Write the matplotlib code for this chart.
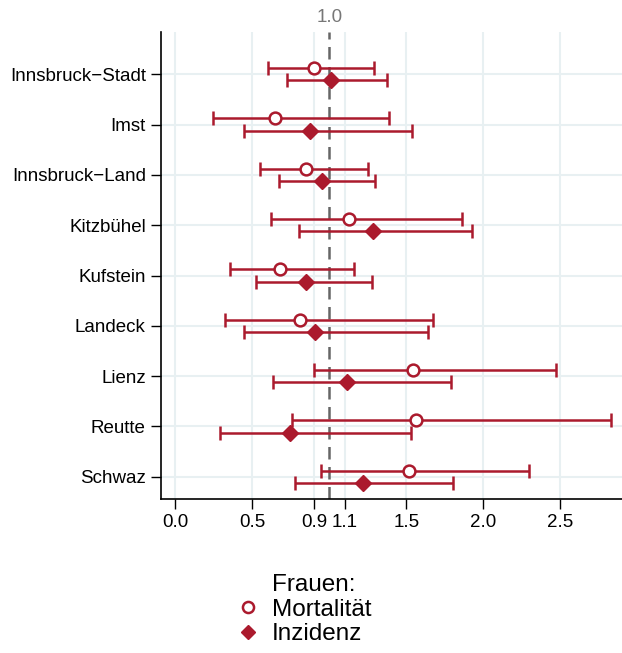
import matplotlib
matplotlib.use("Agg")
import matplotlib.pyplot as plt
from matplotlib.lines import Line2D
import numpy as np

plt.rcParams["font.family"] = ["Liberation Sans", "DejaVu Sans"]

# Bezirke (top to bottom)
districts = ["Innsbruck\u2212Stadt", "Imst", "Innsbruck\u2212Land", "Kitzbühel",
             "Kufstein", "Landeck", "Lienz", "Reutte", "Schwaz"]

# Mortalität: estimate, lower, upper
mort_est = [0.90, 0.645, 0.85, 1.127, 0.676, 0.81, 1.546, 1.562, 1.516]
mort_lo = [0.60, 0.241, 0.55, 0.623, 0.356, 0.319, 0.899, 0.756, 0.945]
mort_hi = [1.288, 1.384, 1.251, 1.863, 1.16, 1.674, 2.469, 2.827, 2.293]

# Inzidenz: estimate, lower, upper
inz_est = [1.01, 0.876, 0.949, 1.283, 0.845, 0.908, 1.112, 0.741, 1.216]
inz_lo = [0.723, 0.446, 0.673, 0.801, 0.526, 0.443, 0.636, 0.291, 0.778]
inz_hi = [1.371, 1.536, 1.299, 1.926, 1.279, 1.638, 1.792, 1.529, 1.803]

xticks = [0.0, 0.5, 0.9, 1.1, 1.5, 2.0, 2.5]
xtick_labels = ["0.0", "0.5", "0.9", "1.1", "1.5", "2.0", "2.5"]
ref_value = 1.0

red = "#ab1a2d"
grid_col = "#e8f0f2"
fs = 13.5

fig = plt.figure(figsize=(6.22, 6.53), dpi=100)
ax = fig.add_axes([0.259, 0.236, 0.741, 0.715])

y = np.arange(1, len(districts) + 1)
off = 0.123

me = np.array(mort_est)
ie = np.array(inz_est)
ax.errorbar(me, y - off, xerr=[me - np.array(mort_lo), np.array(mort_hi) - me],
            fmt="o", color=red, mfc="white", mec=red, ms=8.5, mew=1.8,
            elinewidth=1.8, capsize=5, capthick=1.8, zorder=3)
ax.errorbar(ie, y + off, xerr=[ie - np.array(inz_lo), np.array(inz_hi) - ie],
            fmt="D", color=red, ms=8, elinewidth=1.8, capsize=5, capthick=1.8,
            zorder=3)

ax.axvline(ref_value, color="#666666", linestyle=(0, (5, 3)), linewidth=1.8, zorder=2)

ax.set_xlim(-0.093, 2.9)
ax.set_ylim(9.44, 0.16)
ax.set_yticks(y)
ax.set_yticklabels(districts, fontsize=fs)
ax.set_xticks(xticks)
ax.set_xticklabels(xtick_labels, fontsize=fs)
ax.tick_params(axis="both", length=7, width=1, color="black", pad=4)

for xv in xticks:
    ax.axvline(xv, color=grid_col, linewidth=1.5, zorder=0)
for yv in y:
    ax.axhline(yv, color=grid_col, linewidth=1.5, zorder=0)

for s in ["top", "right"]:
    ax.spines[s].set_visible(False)
for s in ["left", "bottom"]:
    ax.spines[s].set_linewidth(1.2)

top = ax.secondary_xaxis("top")
top.set_xticks([ref_value])
top.set_xticklabels(["1.0"], fontsize=fs, color="#777777")
top.tick_params(length=0, pad=4)
top.spines["top"].set_visible(False)

handles = [Line2D([], [], linestyle="none"),
           Line2D([], [], linestyle="none", marker="o", ms=8, mfc="white",
                  mec=red, mew=1.8),
           Line2D([], [], linestyle="none", marker="D", ms=7, color=red)]
labels = ["Frauen:", "Mortalität", "Inzidenz"]
fig.legend(handles, labels, loc="center", bbox_to_anchor=(0.49, 0.066),
           frameon=False, fontsize=17.5, handlelength=0.8, handletextpad=0.6,
           labelspacing=0.1, borderpad=0)

fig.savefig("out.png", dpi=100)
